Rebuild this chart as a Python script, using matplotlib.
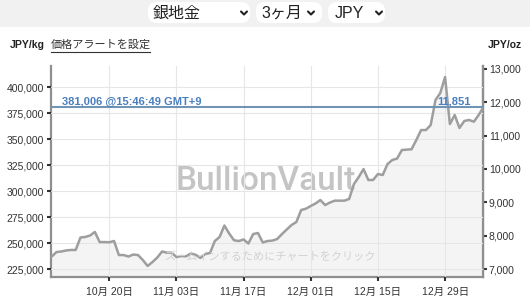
import matplotlib
matplotlib.use("Agg")
import matplotlib.pyplot as plt
import matplotlib.ticker as mticker
from matplotlib.patches import FancyBboxPatch, Rectangle
import pandas as pd

plt.rcParams['font.family'] = ['Liberation Sans', 'Noto Sans CJK JP', 'DejaVu Sans']

# --- данные (JPY/kg, по дням с 8 октября) ---
start_date = pd.Timestamp("2025-10-08")
price_kg = [
    237300, 241600, 242100, 243100, 243600, 243600, 255600, 256100, 257500, 260900,
    251200, 251200, 251000, 252200, 238700, 238700, 237300, 239200, 238700, 233900,
    228200, 232000, 236300, 242100, 241000, 241000, 236800, 237800, 237500, 240200,
    239000, 235900, 239700, 240700, 252200, 256100, 267100, 259400, 252900, 252200,
    253700, 249800, 258900, 259900, 250800, 252200, 252600, 254100, 258900, 263300,
    267600, 270500, 282000, 283300, 285900, 288300, 291600, 286800, 289200, 291000,
    291000, 291000, 292600, 307000, 313700, 321400, 310900, 310900, 316600, 315700,
    326200, 330100, 331500, 339700, 340100, 340400, 349300, 358900, 358900, 363700,
    387800, 394500, 409900, 364700, 373400, 360900, 367600, 368600, 366900, 373400,
    381006,
]
current_kg = 381006
current_oz = 11851
current_time = "15:46:49 GMT+9"

tick_dates = ["2025-10-20", "2025-11-03", "2025-11-17", "2025-12-01", "2025-12-15", "2025-12-29"]
tick_labels = ["10月 20日", "11月 03日", "11月 17日", "12月 01日", "12月 15日", "12月 29日"]
left_ticks = [225000, 250000, 275000, 300000, 325000, 350000, 375000, 400000]
right_ticks = [7000, 8000, 9000, 10000, 11000, 12000, 13000]
KG_TO_OZ = 32.1507

dates = pd.date_range(start_date, periods=len(price_kg), freq="D")

W, H = 530, 301
fig = plt.figure(figsize=(W / 100, H / 100), dpi=100)
fig.patch.set_facecolor("white")

# шапка рисуется в пиксельных координатах
hdr = fig.add_axes([0, 0, 1, 1], zorder=-1)
hdr.set_xlim(0, W)
hdr.set_ylim(H, 0)
hdr.axis("off")
hdr.add_patch(Rectangle((0, 0), W, 27, color="#f1f1f1", lw=0))
for x0, x1 in [(148, 250), (256, 322), (328, 385)]:
    hdr.add_patch(FancyBboxPatch((x0, 2), x1 - x0, 21, boxstyle="round,pad=0,rounding_size=9",
                                 fc="white", ec="none"))
hdr.text(153, 13, "銀地金", fontsize=11.5, va="center", ha="left", color="#222")
hdr.text(261, 13, "3ヶ月", fontsize=11.5, va="center", ha="left", color="#222")
hdr.text(335, 13, "JPY", fontsize=11.5, va="center", ha="left", color="#222")
for cx in [244, 311, 379]:
    hdr.plot([cx - 3, cx, cx + 3], [11.5, 14.5, 11.5], color="#222", lw=1.5, solid_capstyle="round")

hdr.text(10, 45, "JPY/kg", fontsize=7.5, fontweight="bold", va="center", color="#222")
hdr.text(51, 45, "価格アラートを設定", fontsize=8, va="center", color="#333")
hdr.plot([51, 150], [51.5, 51.5], color="#333", lw=0.8)
hdr.text(522, 45, "JPY/oz", fontsize=7.5, fontweight="bold", va="center", ha="right", color="#222")

# --- график ---
ax = fig.add_axes([50.5 / W, 24 / H, 432 / W, 211 / H])
y_bottom, y_top = 217600, 420500
ax.set_ylim(y_bottom, y_top)
ax.set_xlim(start_date - pd.Timedelta(hours=6), start_date + pd.Timedelta(days=89.8))

ax.fill_between(dates, price_kg, y_bottom, color="#f4f4f4", lw=0, zorder=1)
ax.grid(True, color="#e6e6e6", lw=0.8, zorder=2)
ax.set_axisbelow(False)
ax.plot(dates, price_kg, color="#9e9e9e", lw=1.8, zorder=3)
ax.axhline(current_kg, color="#6f94b4", lw=1.5, zorder=4)

ax.set_xticks(pd.to_datetime(tick_dates))
ax.set_xticklabels(tick_labels)
ax.set_yticks(left_ticks)
ax.yaxis.set_major_formatter(mticker.FuncFormatter(lambda v, p: f"{v:,.0f}"))

for s in ["left", "right", "bottom"]:
    ax.spines[s].set_color("#8f8f8f")
    ax.spines[s].set_linewidth(1.6)
ax.spines["top"].set_visible(False)
ax.tick_params(axis="both", direction="out", length=3, width=1.5, color="#333",
               labelsize=7.5, labelcolor="#333", pad=1.5)
ax.tick_params(axis="x", pad=4)

sec = ax.secondary_yaxis("right", functions=(lambda v: v / KG_TO_OZ, lambda v: v * KG_TO_OZ))
sec.set_yticks(right_ticks)
sec.yaxis.set_major_formatter(mticker.FuncFormatter(lambda v, p: f"{v:,.0f}"))
sec.spines["right"].set_color("#8f8f8f")
sec.spines["right"].set_linewidth(1.6)
sec.tick_params(direction="out", length=3, width=1.5, color="#333",
                labelsize=7.5, labelcolor="#333", pad=1.5)

# подписи текущей цены и водяной знак
blue = "#4a7fbf"
ax.text(62 / W, 1 - 101.5 / H, f"{current_kg:,} @{current_time}", transform=fig.transFigure,
        fontsize=8, fontweight="bold", color=blue, va="center", ha="left", zorder=5)
ax.text(471 / W, 1 - 101.5 / H, f"{current_oz:,}", transform=fig.transFigure,
        fontsize=8, fontweight="bold", color=blue, va="center", ha="right", zorder=5)
ax.text(266 / W, 1 - 181 / H, "BullionVault", transform=fig.transFigure,
        family=["Roboto", "Liberation Sans"], fontweight="medium",
        fontsize=24, color="#c4c4c4", va="center", ha="center", zorder=2)
ax.text(270 / W, 1 - 257 / H, "ズームインするためにチャートをクリック", transform=fig.transFigure,
        fontsize=8, color="#d2d2d2", va="center", ha="center", zorder=4)

fig.savefig("out.png", dpi=100)
